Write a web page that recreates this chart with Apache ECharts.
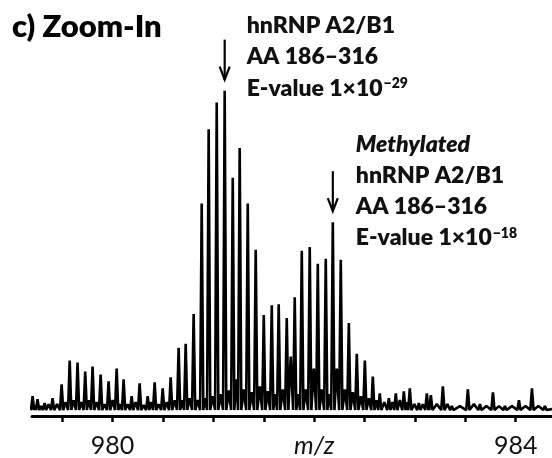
<!DOCTYPE html>
<html>
<head>
<meta charset="utf-8">
<script src="https://cdn.jsdelivr.net/npm/echarts@6/dist/echarts.min.js"></script>
<style>
  html, body { margin: 0; padding: 0; background: #fff; }
  #chart { width: 552px; height: 458px; }
</style>
</head>
<body>
<div id="chart"></div>
<script>
// peak centroids (m/z) and apex intensities (arbitrary units)
const peakMz = [
  979.206, 979.255, 979.325, 979.404, 979.494, 979.574, 979.652, 979.728, 979.801, 979.881,
  979.960, 980.040, 980.109, 980.189, 980.268, 980.348, 980.417, 980.497, 980.576, 980.655,
  980.725, 980.804, 980.884, 980.953, 981.033, 981.112, 981.192, 981.261, 981.341, 981.420,
  981.500, 981.579, 981.648, 981.728, 981.807, 981.877, 981.956, 982.036, 982.115, 982.185,
  982.264, 982.344, 982.423, 982.503, 982.582, 982.651, 982.741, 982.810, 982.890, 982.949,
  983.039, 983.118, 983.158, 983.277, 983.366, 983.525, 983.645, 983.774, 983.893, 984.032,
  984.161, 984.290
];
const peakInt = [
  20, 17, 13, 18, 32, 56, 54, 45, 50, 42,
  35, 48, 37, 20, 33, 20, 34, 28, 39, 69,
  73, 103, 215, 290, 317, 329, 241, 271, 215, 168,
  102, 112, 113, 99, 120, 167, 171, 154, 159, 196,
  158, 94, 63, 56, 40, 23, 18, 23, 25, 28,
  13, 23, 21, 30, 10, 27, 12, 24, 10, 16,
  28, 10
];
// signal level between neighbouring peaks (shoulders / noise)
const gapInt = [
  11, 10, 12, 12, 14, 16, 14, 16, 14, 12,
  16, 12, 12, 14, 11, 14, 12, 14, 16, 16,
  18, 16, 18, 20, 22, 26, 37, 27, 24, 30,
  25, 22, 27, 60, 22, 27, 48, 27, 22, 48,
  27, 24, 20, 18, 16, 14, 14, 16, 14, 12,
  12, 14, 12, 12, 10, 12, 10, 10, 10, 10,
  10
];
const noiseFloor = 6;
const tickValues = [979.5, 980, 980.5, 981, 981.5, 982, 982.5, 983, 983.5, 984];
const labelValues = [980, 982, 984];
const labelText = { 980: '980', 982: '{it|m/z}', 984: '984' };

const annotations = [
  { peak: 25, lines: [['hnRNP A2/B1'], ['AA 186–316'], ['E-value 1×10', '−29']], dx: 22, firstDy: -65 },
  { peak: 39, lines: [['{i|Methylated}'], ['hnRNP A2/B1'], ['AA 186–316'], ['E-value 1×10', '−18']], dx: 23, firstDy: -78 }
];

// profile trace: floor -> apex -> floor, with the gap level between peaks
const halfW = 0.016;
const profile = [[979.2, 9]];
peakMz.forEach((mz, i) => {
  profile.push([mz - halfW, noiseFloor], [mz, peakInt[i]], [mz + halfW, noiseFloor]);
  if (i < peakMz.length - 1) {
    profile.push([(mz + peakMz[i + 1]) / 2, gapInt[i]]);
  }
});
profile.push([984.36, 7]);

const chart = echarts.init(document.getElementById('chart'));
const FONT = 'Lato';

chart.setOption({
  backgroundColor: '#fff',
  animation: false,
  grid: { left: 32, right: 0, top: 60, bottom: 38 },
  xAxis: {
    type: 'value',
    min: 979.2,
    max: 984.36,
    axisLine: { lineStyle: { color: '#000', width: 3 } },
    axisTick: { customValues: tickValues, length: 6, lineStyle: { color: '#000', width: 2.5 } },
    axisLabel: {
      customValues: labelValues,
      formatter: v => labelText[v] || '',
      color: '#111',
      fontFamily: FONT,
      fontSize: 25,
      margin: 17,
      rich: { it: { fontStyle: 'italic', fontFamily: FONT, fontSize: 25, color: '#111' } }
    },
    splitLine: { show: false }
  },
  yAxis: { type: 'value', min: 0, max: 360, show: false },
  series: [{
    type: 'line',
    data: profile,
    symbol: 'none',
    lineStyle: { color: '#000', width: 2.6 },
    clip: false
  }]
});

// annotations anchored on their peaks
const gfx = [{
  type: 'text', left: 12, top: 11,
  style: { text: 'c) Zoom-In', font: '800 31px ' + FONT, fill: '#000' }
}];
annotations.forEach(a => {
  const [x, y] = chart.convertToPixel({ gridIndex: 0 }, [peakMz[a.peak], peakInt[a.peak]]);
  const y1 = y - 51, y2 = y - 11;
  gfx.push({
    type: 'polyline', shape: { points: [[x, y1], [x, y2]] },
    style: { stroke: '#000', lineWidth: 2.2, fill: null }
  }, {
    type: 'polyline', shape: { points: [[x - 5, y2 - 13], [x, y2], [x + 5, y2 - 13]] },
    style: { stroke: '#000', lineWidth: 2.2, fill: null }
  });
  a.lines.forEach((ln, j) => {
    const txt = ln.length > 1 ? ln[0] + '{s|' + ln[1] + '}' : ln[0];
    gfx.push({
      type: 'text',
      x: x + a.dx,
      y: y + a.firstDy + j * 31.3,
      style: {
        text: txt,
        font: '800 23px ' + FONT,
        fill: '#111',
        verticalAlign: 'middle',
        rich: {
          i: { fontStyle: 'italic', fontWeight: 800, fontFamily: FONT, fontSize: 23, fill: '#111' },
          s: { fontWeight: 800, fontFamily: FONT, fontSize: 14, fill: '#111', padding: [0, 0, 10, 1] }
        }
      }
    });
  });
});
chart.setOption({ graphic: gfx });

window.addEventListener('resize', () => chart.resize());
</script>
</body>
</html>
